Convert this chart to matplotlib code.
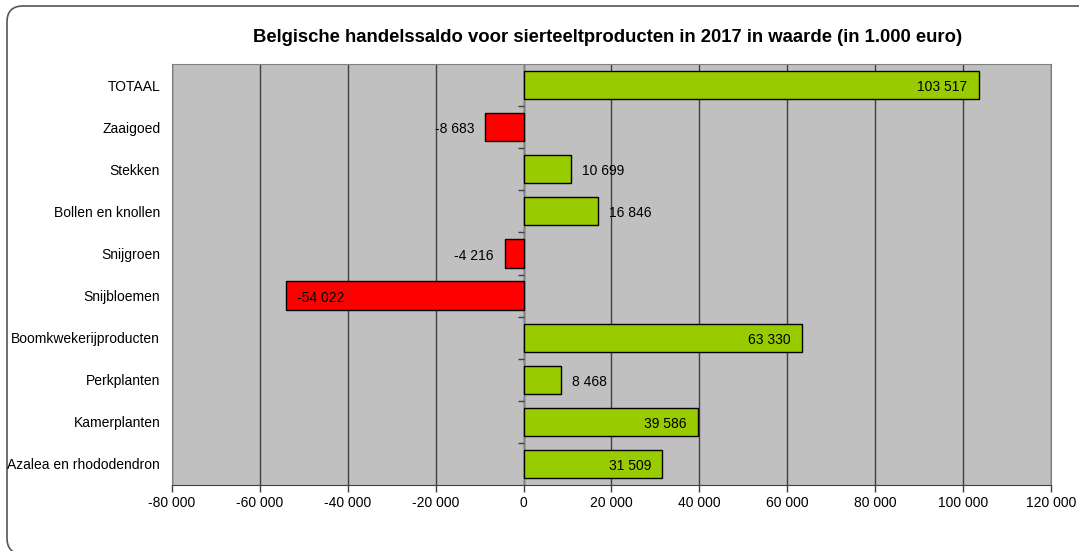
"""
Belgische handelssaldo voor sierteeltproducten - horizontaal staafdiagram
"""

import matplotlib
matplotlib.use("Agg")
import matplotlib.pyplot as plt
from matplotlib.patches import FancyBboxPatch
from matplotlib.ticker import FuncFormatter

plt.rcParams['font.family'] = ['Liberation Sans', 'DejaVu Sans']

# data (in 1.000 euro)
categories = ["TOTAAL", "Zaaigoed", "Stekken", "Bollen en knollen", "Snijgroen",
              "Snijbloemen", "Boomkwekerijproducten", "Perkplanten",
              "Kamerplanten", "Azalea en rhododendron"]
values = [103517, -8683, 10699, 16846, -4216, -54022, 63330, 8468, 39586, 31509]
x_ticks = [-80000, -60000, -40000, -20000, 0, 20000, 40000, 60000, 80000, 100000, 120000]

title = "Belgische handelssaldo voor sierteeltproducten in 2017 in waarde (in 1.000 euro)"


def fmt(v):
    """Getal met spatie als duizendtal-scheiding"""
    return f"{v:,.0f}".replace(",", " ")


fig = plt.figure(figsize=(10.79, 5.51), dpi=100)

# afgeronde rand rond de grafiek (rechts en onder valt buiten het beeld)
border = FancyBboxPatch((0.07, -0.03), 11.0, 5.48,
                        boxstyle="round,pad=0,rounding_size=0.16",
                        transform=fig.dpi_scale_trans, facecolor="white",
                        edgecolor="#555555", linewidth=1.2, zorder=-10)
fig.patches.append(border)

ax = fig.add_axes([0.1594, 0.1198, 0.8146, 0.764])
ax.set_facecolor("#C0C0C0")

ypos = list(range(len(categories)))
colors = ["#99CC00" if v >= 0 else "#FF0000" for v in values]
ax.barh(ypos, values, height=0.67, color=colors, edgecolor="black",
        linewidth=1.0, zorder=3)

ax.set_xlim(x_ticks[0], x_ticks[-1])
ax.set_ylim(len(categories) - 0.5, -0.5)
ax.set_xticks(x_ticks)
ax.xaxis.set_major_formatter(FuncFormatter(lambda v, p: fmt(v)))
ax.set_yticks(ypos)
ax.set_yticklabels(categories)
ax.tick_params(axis="y", length=0, pad=8.5, labelsize=10)
ax.tick_params(axis="x", length=5, width=1, color="#404040", labelsize=10, pad=3)

ax.grid(axis="x", color="#404040", linewidth=1.0, zorder=1)
for side in ["top", "right", "left"]:
    ax.spines[side].set_color("#808080")
ax.spines["bottom"].set_color("#404040")

# verticale as door 0 met kleine tickmarks tussen de categorieen
ax.axvline(0, color="#808080", linewidth=1.0, zorder=2)
bounds = [i + 0.5 for i in range(len(categories) - 1)]
ax.hlines(bounds, -1200, 0, color="#404040", linewidth=1.0, zorder=2)

# labels
for y, v in zip(ypos, values):
    inside = abs(v) >= 20000
    if v >= 0:
        off, ha = (-8, "right") if inside else (8, "left")
    else:
        off, ha = (8, "left") if inside else (-8, "right")
    ax.annotate(fmt(v), (v, y), xytext=(off, -1.5), textcoords="offset points",
                ha=ha, va="center", fontsize=10, zorder=4)

fig.text(0.563, 0.932, title, ha="center", va="center",
         fontsize=13.3, fontweight="bold")

fig.savefig("out.png", dpi=100)
